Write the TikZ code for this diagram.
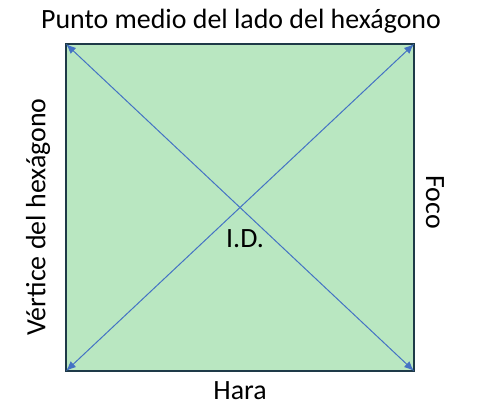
\documentclass[tikz,border=0pt]{standalone}
\usepackage{fontspec}
\setmainfont{Carlito}
\usetikzlibrary{arrows.meta}
\definecolor{fillg}{HTML}{B9E7C1}
\definecolor{edge}{HTML}{1E3A48}
\definecolor{arr}{HTML}{4472C4}
\begin{document}
\begin{tikzpicture}[x=1bp,y=-1bp,
  lbl/.style={font=\fontsize{28}{33}\selectfont, inner sep=0pt},
  diag/.style={draw=arr, line width=1bp, {Latex[length=10bp,width=8bp]}-{Latex[length=10bp,width=8bp]}}]
\useasboundingbox (0,0) rectangle (479,411);
\coordinate (tl) at (66,44);
\coordinate (tr) at (414,44);
\coordinate (bl) at (66,371);
\coordinate (br) at (414,371);
\draw[fill=fillg, draw=edge, line width=1.2bp] (tl) rectangle (br);
\draw[diag] (tl) -- (br);
\draw[diag] (bl) -- (tr);
\node[lbl] (top) at (241,21) {Punto medio del lado del hexágono};
\node[lbl] (bot) at (240,391) {Hara};
\node[lbl, rotate=90] (left) at (38,217) {Vértice del hexágono};
\node[lbl, rotate=-90] (right) at (435,202) {Foco};
\node[lbl] (id) at (245,239) {I.D.};
\end{tikzpicture}
\end{document}
